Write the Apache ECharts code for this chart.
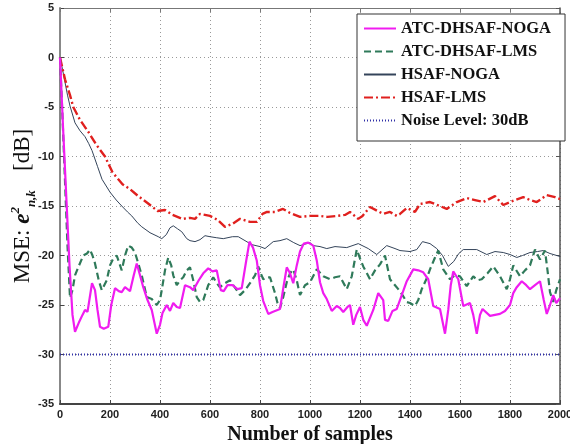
<!DOCTYPE html>
<html><head><meta charset="utf-8">
<script src="https://cdn.jsdelivr.net/npm/echarts@6/dist/echarts.min.js"></script>
<style>html,body{margin:0;padding:0;background:#fff}#c{width:570px;height:444px}</style>
</head><body><div id="c"></div>
<script>
const seriesNames = ['ATC-DHSAF-NOGA','ATC-DHSAF-LMS','HSAF-NOGA','HSAF-LMS','Noise Level: 30dB'];
const xTicks = [0,200,400,600,800,1000,1200,1400,1600,1800,2000];
const yTicks = [-35,-30,-25,-20,-15,-10,-5,0,5];

const atcNoga = [[0,0],[12,-7],[25,-14],[38,-21],[50,-26],[60,-27.7],[75,-26.8],[90,-26],[100,-25.5],[110,-25.7],[128,-22.8],[140,-23.5],[150,-25.5],[160,-27.2],[175,-27.4],[193,-27.2],[205,-25],[220,-23.3],[235,-23.6],[247,-23.7],[260,-23.2],[280,-23.6],[295,-22],[307,-20.8],[320,-22],[333,-23.2],[350,-24.5],[367,-25.5],[387,-27.9],[400,-27],[410,-25.8],[427,-25],[440,-25.6],[453,-24.8],[467,-25.2],[480,-25.3],[500,-23],[520,-23.2],[533,-23.5],[555,-22.5],[573,-21.8],[593,-21.3],[610,-21.6],[627,-21.5],[643,-23.5],[655,-23.6],[670,-23],[690,-23],[710,-23.4],[727,-23.3],[745,-20.5],[758,-18.6],[772,-19.2],[787,-20.5],[800,-23],[813,-24.6],[833,-25.9],[850,-25.7],[880,-25.4],[895,-23],[907,-21.2],[920,-21.8],[933,-22.8],[947,-21],[960,-19.6],[975,-18.8],[993,-18.7],[1013,-19],[1027,-20.5],[1040,-22.7],[1053,-23.8],[1067,-24.4],[1087,-25.6],[1107,-25.1],[1120,-25.3],[1133,-25.7],[1150,-25.2],[1160,-25],[1173,-27],[1185,-26],[1200,-25.2],[1213,-26.5],[1227,-27.1],[1240,-26.3],[1253,-25.5],[1273,-23.8],[1293,-24.5],[1300,-26.5],[1313,-26.6],[1330,-25.6],[1347,-25.4],[1367,-24],[1387,-22.6],[1413,-21.4],[1433,-21.5],[1453,-21.7],[1473,-22.4],[1493,-25.1],[1520,-25.4],[1540,-27.9],[1553,-25.5],[1563,-23],[1573,-21.6],[1593,-22.4],[1613,-25.1],[1640,-24.8],[1653,-26],[1667,-27.9],[1680,-26],[1690,-25.4],[1720,-26.1],[1760,-25.9],[1780,-25.6],[1800,-25],[1813,-23.8],[1827,-23.2],[1847,-22.6],[1865,-23],[1880,-23.4],[1900,-23],[1920,-22.6],[1935,-24.5],[1947,-25.9],[1960,-25],[1973,-24],[1985,-24.8],[2000,-24.3]];

const atcLms = [[0,0],[10,-6],[20,-12.5],[30,-19],[40,-24.3],[50,-23.5],[60,-22],[73,-21.2],[93,-20],[108,-19.8],[120,-19.4],[130,-20],[140,-20.8],[155,-22.5],[167,-23.5],[187,-22.5],[200,-21],[213,-20.3],[227,-20],[247,-21.5],[260,-20],[273,-19],[287,-19.2],[300,-19.7],[313,-20.8],[327,-22],[347,-24.2],[367,-24.4],[387,-25],[400,-24.5],[407,-23.5],[420,-21.5],[433,-20.2],[445,-21],[453,-22],[467,-23],[480,-22.5],[493,-22.2],[507,-21.5],[520,-21.2],[533,-22.5],[547,-24.2],[560,-24.7],[573,-24.5],[593,-23],[613,-22.2],[627,-22.8],[640,-23.2],[660,-22.8],[680,-22.5],[693,-23],[707,-23.5],[720,-24],[740,-23.5],[760,-22.8],[780,-22],[793,-21.1],[803,-21.8],[813,-22.4],[827,-22.2],[840,-22.2],[860,-23.8],[870,-24.8],[880,-25.3],[893,-24.2],[907,-22.7],[920,-21.8],[933,-21.4],[947,-22.5],[960,-24],[967,-23.9],[980,-23],[1000,-22.7],[1027,-21.4],[1053,-22.1],[1080,-22.4],[1100,-22.2],[1120,-22.1],[1147,-23.4],[1167,-22.1],[1187,-19.4],[1200,-20.3],[1213,-21.1],[1240,-22.4],[1260,-21.5],[1280,-20.9],[1300,-20],[1320,-22.4],[1340,-23],[1353,-23.4],[1370,-24],[1387,-24.7],[1400,-24.8],[1420,-25.1],[1433,-24.5],[1447,-23.4],[1467,-22.3],[1480,-21.4],[1500,-20.2],[1513,-19.5],[1533,-21.4],[1560,-22.4],[1580,-22],[1600,-22.1],[1627,-23.1],[1653,-22.1],[1670,-22.5],[1687,-22.4],[1710,-21.8],[1733,-21.1],[1760,-22.1],[1787,-23.4],[1800,-22.4],[1813,-21],[1840,-22.1],[1860,-21.5],[1880,-21],[1900,-19.4],[1920,-20.4],[1940,-19.5],[1950,-21.5],[1960,-23.7],[1973,-24.7],[1985,-23.5],[2000,-22.4]];

const hsafNoga = [[0,0],[10,-1.2],[20,-2.5],[30,-3.8],[40,-4.9],[60,-6.6],[80,-7.4],[100,-8],[115,-8.7],[128,-9.4],[150,-11],[168,-12.3],[200,-13.6],[225,-14.4],[247,-15],[270,-15.6],[287,-16],[310,-16.7],[327,-17.1],[360,-17.7],[393,-18.1],[407,-18.3],[425,-17.9],[440,-17.2],[453,-17],[470,-17.3],[487,-17.6],[507,-18.3],[520,-18.5],[540,-18.6],[560,-18.4],[580,-18],[600,-18.1],[625,-18.2],[653,-18.3],[690,-18.1],[713,-18.1],[740,-18.5],[767,-18.9],[800,-19.1],[820,-19.3],[853,-18.6],[880,-18.5],[907,-18.3],[935,-18.7],[960,-19],[1000,-18.7],[1013,-19],[1040,-19.1],[1067,-19.3],[1100,-19.1],[1147,-19.2],[1193,-18.8],[1233,-19.3],[1267,-19.9],[1307,-19],[1340,-19.3],[1360,-19.5],[1400,-19.6],[1427,-19.4],[1450,-18.6],[1480,-18.8],[1507,-19.3],[1530,-20],[1553,-21.1],[1575,-20.6],[1595,-19.8],[1613,-19.4],[1667,-19.4],[1707,-19.9],[1740,-19.6],[1773,-19.7],[1800,-19.9],[1827,-20.2],[1850,-20],[1880,-19.7],[1910,-19.6],[1933,-19.5],[1960,-19.8],[1987,-20],[2000,-20.1]];

const hsafLms = [[0,0],[20,-2.2],[40,-3.8],[53,-5],[80,-6.3],[113,-7.5],[145,-8.8],[180,-10],[210,-11.6],[250,-12.8],[280,-13.3],[313,-14],[350,-14.7],[390,-15.5],[420,-15.4],[450,-15.9],[490,-16.3],[520,-16.2],[540,-16.3],[560,-15.8],[600,-16],[630,-16.4],[660,-17.1],[690,-16.8],[720,-16.3],[760,-16.6],[788,-16.6],[810,-15.8],[828,-15.6],[860,-15.6],[892,-15.3],[920,-15.7],[960,-16.1],[1000,-16],[1040,-16],[1070,-16.1],[1108,-16],[1140,-15.9],[1160,-15.6],[1193,-16.3],[1210,-16],[1240,-15.1],[1270,-15.5],[1293,-15.8],[1320,-15.6],[1347,-16],[1360,-15.8],[1387,-15.2],[1420,-15.6],[1440,-14.8],[1480,-14.6],[1510,-14.9],[1547,-15.3],[1587,-14.6],[1627,-14.2],[1660,-14.4],[1693,-14.6],[1740,-14],[1773,-14.9],[1800,-14.6],[1853,-14.1],[1880,-14.4],[1907,-14.6],[1947,-13.9],[1980,-14.1],[2000,-14.3]];

const noiseLevel = [[0,-30],[2000,-30]];

const chart = echarts.init(document.getElementById('c'), null, {renderer:'canvas'});
const tickFont = {fontFamily:'Liberation Sans, Arial', fontWeight:'bold', fontSize:11, color:'#222'};
const serif = 'Liberation Serif, Times New Roman, serif';
const split = {show:true, lineStyle:{type:[1,3], color:'#999', width:1}};
chart.setOption({
  animation:false,
  backgroundColor:'#fff',
  grid:{left:60, top:8, right:10, bottom:40, containLabel:false, outerBoundsMode:'none'},
  legend:{
    data:seriesNames, orient:'vertical', left:357, top:14,
    backgroundColor:'#fff', borderColor:'#333', borderWidth:1,
    padding:[6,14,12,6], itemGap:6, itemWidth:32, itemHeight:14,
    itemStyle:{opacity:0},
    textStyle:{fontFamily:serif, fontWeight:'bold', fontSize:16.5, color:'#111', lineHeight:16},
    selectedMode:false
  },
  xAxis:[{
    type:'value', min:0, max:2000, interval:200, position:'bottom',
    axisLine:{show:true, onZero:false, lineStyle:{color:'#444', width:2}},
    axisTick:{show:true, inside:true, length:4, lineStyle:{color:'#444'}},
    axisLabel:Object.assign({margin:5, formatter:v=>xTicks.includes(v)?String(v):''}, tickFont),
    splitLine:split,
    name:'Number of samples', nameLocation:'middle', nameGap:15,
    nameTextStyle:{fontFamily:serif, fontWeight:'bold', fontSize:20, color:'#111'}
  },{
    type:'value', min:0, max:2000, interval:200, position:'top',
    axisLine:{show:true, onZero:false, lineStyle:{color:'#777', width:1}},
    axisTick:{show:true, inside:true, length:4, lineStyle:{color:'#777'}},
    axisLabel:{show:false}, splitLine:{show:false}
  }],
  yAxis:[{
    type:'value', min:-35, max:5, interval:5, position:'left',
    axisLine:{show:true, onZero:false, lineStyle:{color:'#888', width:2}},
    axisTick:{show:true, inside:true, length:4, lineStyle:{color:'#444'}},
    axisLabel:Object.assign({margin:6, formatter:v=>yTicks.includes(v)?String(v):''}, tickFont),
    splitLine:split,
    name:'{a|MSE: }{e|e}{sup|2}{sub|n,k}{a|   [dB]}', nameLocation:'middle', nameGap:22,
    nameMoveOverlap:false,
    nameTextStyle:{
      fontFamily:serif, fontSize:22, color:'#111',
      rich:{
        a:{fontFamily:serif, fontSize:23, color:'#111', lineHeight:30, verticalAlign:'middle'},
        e:{fontFamily:serif, fontSize:23, fontStyle:'italic', fontWeight:'bold', color:'#111', lineHeight:30, verticalAlign:'middle'},
        sup:{fontFamily:serif, fontSize:13, fontStyle:'italic', fontWeight:'bold', color:'#111', lineHeight:30, verticalAlign:'top', padding:[1,0,0,0]},
        sub:{fontFamily:serif, fontSize:13, fontStyle:'italic', fontWeight:'bold', color:'#111', lineHeight:30, verticalAlign:'bottom', padding:[0,2,0,0]}
      }
    }
  },{
    type:'value', min:-35, max:5, interval:5, position:'right',
    axisLine:{show:true, onZero:false, lineStyle:{color:'#555', width:1.5}},
    axisTick:{show:true, inside:true, length:4, lineStyle:{color:'#555'}},
    axisLabel:{show:false}, splitLine:{show:false}
  }],
  series:[
    {name:seriesNames[0], type:'line', data:atcNoga, symbol:'none', z:5,
     lineStyle:{color:'#f01cf0', width:2.2}, itemStyle:{color:'#f01cf0'}},
    {name:seriesNames[1], type:'line', data:atcLms, symbol:'none', z:4,
     lineStyle:{color:'#2f7a5a', width:2.2, type:[7,4]}, itemStyle:{color:'#2f7a5a'}},
    {name:seriesNames[2], type:'line', data:hsafNoga, symbol:'none', z:3,
     lineStyle:{color:'#34445a', width:1}, itemStyle:{color:'#34445a'}},
    {name:seriesNames[3], type:'line', data:hsafLms, symbol:'none', z:3,
     lineStyle:{color:'#e0201e', width:2.4, type:[9,3,2,3]}, itemStyle:{color:'#e0201e'}},
    {name:seriesNames[4], type:'line', data:noiseLevel, symbol:'none', z:2,
     lineStyle:{color:'#3030a8', width:2, type:[1,2]}, itemStyle:{color:'#3030a8'}}
  ]
});
</script></body></html>
